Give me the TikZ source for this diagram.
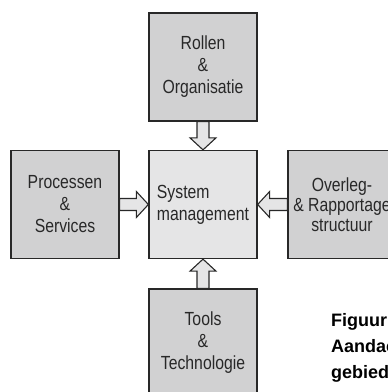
\documentclass[tikz,border=0pt]{standalone}
\usepackage{fontspec}
\setmainfont{Liberation Sans}[FakeStretch=0.83]
\newfontfamily\capfont{Liberation Sans}
\usetikzlibrary{calc}

\definecolor{areafill}{RGB}{209,209,210}
\definecolor{corefill}{RGB}{229,229,230}
\definecolor{edgegray}{RGB}{40,40,40}
\definecolor{labelgray}{RGB}{40,40,40}

% hollow block arrow from point #1 to tip #2
\newcommand\blockarrow[2]{%
  \coordinate (ba-c) at ($(#2)!12pt!(#1)$);
  \filldraw[arrowpart]
    ($(#1)!6pt!90:(#2)$) -- ($(ba-c)!6pt!90:(#2)$) -- ($(ba-c)!13pt!90:(#2)$)
    -- (#2) -- ($(ba-c)!13pt!-90:(#2)$) -- ($(ba-c)!6pt!-90:(#2)$)
    -- ($(#1)!6pt!-90:(#2)$) -- cycle;}

\tikzset{
  areabox/.style={draw=edgegray, line width=1.3pt, fill=areafill,
    minimum width=108pt, minimum height=108pt, inner sep=0pt,
    text=labelgray, align=center, font=\fontsize{19}{22}\selectfont},
  corebox/.style={areabox, fill=corefill, align=left},
  arrowpart/.style={draw=edgegray, line width=1.1pt, fill=corefill, line join=miter},
  caption/.style={anchor=base west, inner sep=0pt, text=black,
    font=\capfont\fontsize{18}{26}\selectfont\bfseries}
}

\begin{document}
\begin{tikzpicture}[x=1pt, y=1pt]
  \useasboundingbox (0,0) rectangle (388,392);

  \node[areabox] (rol) at (203,325) {Rollen\\\&\\Organisatie};
  \node[corebox] (sys) at (203,187.5) {System\\management};
  \node[areabox] (pro) at (65,187.5) {Processen\\\&\\Services};
  \node[areabox, font=\fontsize{19}{20}\selectfont] (ovl) at (342,187.5)
    {Overleg-\\\& Rapportage\\structuur};
  \node[areabox] (tls) at (203,49) {Tools\\\&\\Technologie};

  \blockarrow{rol.south}{sys.north}
  \blockarrow{pro.east}{sys.west}
  \blockarrow{ovl.west}{sys.east}
  \blockarrow{tls.north}{sys.south}

  \node[caption] (cap1) at (331,65) {Figuur};
  \node[caption] (cap2) at (331,39) {Aandachts};
  \node[caption] (cap3) at (331,13) {gebieden};
\end{tikzpicture}
\end{document}
